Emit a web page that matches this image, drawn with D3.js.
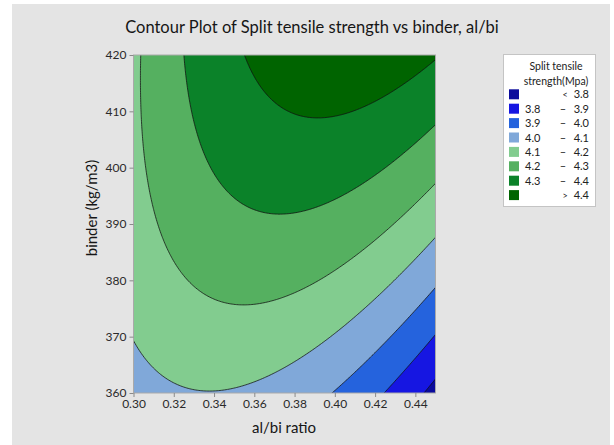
<!DOCTYPE html>
<html>
<head>
<meta charset="utf-8">
<script src="https://cdn.jsdelivr.net/npm/d3@7"></script>
<style>
  body { margin: 0; background: #fff; }
  svg { display: block; font-family: Lato, "Open Sans", sans-serif; }
</style>
</head>
<body>
<svg id="chart" width="614" height="445"></svg>
<script>
// Axis ticks
const xTicks = [0.30, 0.32, 0.34, 0.36, 0.38, 0.40, 0.42, 0.44];
const yTicks = [360, 370, 380, 390, 400, 410, 420];

// Contour levels and the colour of each band (below first level ... above last level)
const levels = [3.8, 3.9, 4.0, 4.1, 4.2, 4.3, 4.4];
const bandColors = ["#0b0b9c", "#1616e2", "#2563dd", "#80a8d9", "#82cc8f", "#55b060", "#0b8229", "#006400"];

// Legend rows
const legendLow  = ["",  "3.8", "3.9", "4.0", "4.1", "4.2", "4.3", ""];
const legendSign = ["<", "–",   "–",   "–",   "–",   "–",   "–",   ">"];
const legendHigh = ["3.8", "3.9", "4.0", "4.1", "4.2", "4.3", "4.4", "4.4"];

// Points on each contour line: [al/bi ratio, binder]
const line38 = [[0.4432, 360], [0.45, 362.2]];
const line39 = [[0.4215, 360], [0.4471, 369.4], [0.45, 370.5]];
const line40 = [[0.3947, 360], [0.4223, 369.3], [0.45, 378.9]];
const line41 = [[0.30, 367.6], [0.3148, 363.5], [0.3346, 361.0], [0.3644, 361.7], [0.3975, 365.8], [0.45, 387.7]];
const line42 = [[0.3016, 420], [0.3066, 403.1], [0.3181, 385.4], [0.3314, 380.0], [0.3529, 376.5], [0.381, 377.7], [0.4141, 381.8], [0.45, 397.2]];
const line43 = [[0.324, 420], [0.3314, 406.1], [0.3479, 396.0], [0.3727, 392.8], [0.3892, 393.1], [0.4141, 397.2], [0.4389, 404.4], [0.45, 407.6]];
const line44 = [[0.356, 420], [0.3644, 415.0], [0.3777, 410.8], [0.391, 409.8], [0.4223, 412.0], [0.45, 418.8]];

const traced = [
  [3.8, line38], [3.9, line39], [4.0, line40], [4.1, line41],
  [4.2, line42], [4.3, line43], [4.4, line44]
];

// Second-order response surface in coded units, fitted by least squares
const code = (x, y) => [(x - 0.375) / 0.075, (y - 390) / 30];
const terms = (x, y) => { const [u, v] = code(x, y); return [1, u, v, u * u, v * v, u * v]; };

function fitSurface() {
  const k = 6;
  const M = Array.from({ length: k }, () => new Array(k + 1).fill(0));
  traced.forEach(([z, pts]) => pts.forEach(([x, y]) => {
    const b = terms(x, y);
    for (let i = 0; i < k; i++) {
      for (let j = 0; j < k; j++) M[i][j] += b[i] * b[j];
      M[i][k] += b[i] * z;
    }
  }));
  for (let c = 0; c < k; c++) {
    let p = c;
    for (let r = c + 1; r < k; r++) if (Math.abs(M[r][c]) > Math.abs(M[p][c])) p = r;
    [M[c], M[p]] = [M[p], M[c]];
    for (let r = 0; r < k; r++) {
      if (r === c) continue;
      const f = M[r][c] / M[c][c];
      for (let j = c; j <= k; j++) M[r][j] -= f * M[c][j];
    }
  }
  return M.map((row, i) => row[k] / row[i]);
}
const coef = fitSurface();
const surface = (x, y) => d3.sum(terms(x, y), (t, i) => t * coef[i]);

// Layout
const svg = d3.select("#chart");
const x = d3.scaleLinear([0.30, 0.45], [133.5, 435.5]);
const y = d3.scaleLinear([360, 420], [393, 55]);

svg.append("rect").attr("x", 12).attr("y", 4).attr("width", 598).attr("height", 441).attr("fill", "#e4e4e4");

// Grid over a slightly wider area so band edges stay outside the clip
const gx0 = 0.285, gx1 = 0.465, gy0 = 354, gy1 = 426, n = 240, m = 240;
const sx = (gx1 - gx0) / (n - 1), sy = (gy1 - gy0) / (m - 1);
const grid = new Array(n * m);
for (let j = 0; j < m; j++) for (let i = 0; i < n; i++) grid[j * n + i] = surface(gx0 + i * sx, gy0 + j * sy);

const bands = d3.contours().size([n, m]).thresholds(levels)(grid);
const toPx = d3.geoTransform({
  point(cx, cy) { this.stream.point(x(gx0 + (cx - 0.5) * sx), y(gy0 + (cy - 0.5) * sy)); }
});
const path = d3.geoPath(toPx);

svg.append("clipPath").attr("id", "plotClip")
  .append("rect").attr("x", x(0.30)).attr("y", y(420)).attr("width", x(0.45) - x(0.30)).attr("height", y(360) - y(420));

const plot = svg.append("g").attr("clip-path", "url(#plotClip)");
plot.append("rect").attr("x", x(0.30)).attr("y", y(420)).attr("width", x(0.45) - x(0.30)).attr("height", y(360) - y(420))
  .attr("fill", bandColors[0]);
plot.selectAll("path.band").data(bands).join("path")
  .attr("class", "band")
  .attr("d", path)
  .attr("fill", (d, i) => bandColors[i + 1])
  .attr("fill-rule", "evenodd")
  .attr("stroke", "#111")
  .attr("stroke-width", 0.9)
  .attr("stroke-opacity", 0.85);

// Plot frame
svg.append("rect").attr("x", x(0.30)).attr("y", y(420)).attr("width", x(0.45) - x(0.30)).attr("height", y(360) - y(420))
  .attr("fill", "none").attr("stroke", "#a9a9a9").attr("stroke-width", 1);

// Axes
const xAxis = svg.append("g").attr("transform", `translate(0,${y(360)})`)
  .call(d3.axisBottom(x).tickValues(xTicks).tickFormat(d3.format(".2f")).tickSize(4).tickPadding(2));
const yAxis = svg.append("g").attr("transform", `translate(${x(0.30)},0)`)
  .call(d3.axisLeft(y).tickValues(yTicks).tickFormat(d3.format("d")).tickSize(4).tickPadding(3));
[xAxis, yAxis].forEach(g => {
  g.select(".domain").remove();
  g.selectAll(".tick line").attr("stroke", "#8a8a8a");
  g.selectAll(".tick text").attr("fill", "#2a2a2a").style("font-size", "12px").style("font-family", "Lato, sans-serif");
});

// Titles
svg.append("text").attr("x", 312).attr("y", 32.5).attr("text-anchor", "middle")
  .attr("fill", "#161616").style("font-size", "16.5px")
  .text("Contour Plot of Split tensile strength vs binder, al/bi");
svg.append("text").attr("x", 284).attr("y", 433).attr("text-anchor", "middle")
  .attr("fill", "#161616").style("font-size", "15px").text("al/bi ratio");
svg.append("text").attr("transform", "translate(97,208) rotate(-90)").attr("text-anchor", "middle")
  .attr("fill", "#161616").style("font-size", "15px").text("binder (kg/m3)");

// Legend
const lg = svg.append("g");
lg.append("rect").attr("x", 503.5).attr("y", 54.5).attr("width", 92).attr("height", 152)
  .attr("fill", "#fff").attr("stroke", "#c4c4c4");
lg.append("text").attr("x", 556).attr("y", 70).attr("text-anchor", "middle").attr("fill", "#222")
  .style("font-size", "10.5px").text("Split tensile");
lg.append("text").attr("x", 556).attr("y", 85).attr("text-anchor", "middle").attr("fill", "#222")
  .style("font-size", "10.5px").text("strength(Mpa)");
const rows = lg.selectAll("g.row").data(bandColors).join("g").attr("class", "row")
  .attr("transform", (d, i) => `translate(0,${94.3 + i * 14.4})`);
rows.append("rect").attr("x", 509).attr("y", -5).attr("width", 10).attr("height", 10).attr("fill", d => d);
rows.append("text").attr("x", 525).attr("y", 4).attr("fill", "#222").style("font-size", "11px")
  .text((d, i) => legendLow[i]);
rows.append("text").attr("x", (d, i) => legendSign[i] === "–" ? 563 : 565).attr("y", 4).attr("text-anchor", "middle")
  .attr("fill", "#222").style("font-size", (d, i) => legendSign[i] === "–" ? "11px" : "9px")
  .text((d, i) => legendSign[i]);
rows.append("text").attr("x", 589).attr("y", 4).attr("text-anchor", "end").attr("fill", "#222")
  .style("font-size", "11px").text((d, i) => legendHigh[i]);
</script>
</body>
</html>
